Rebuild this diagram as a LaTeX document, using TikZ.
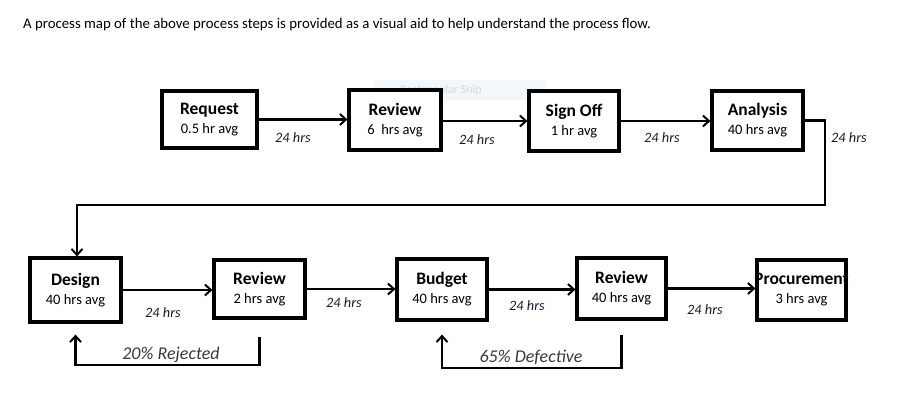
\documentclass[tikz,border=0pt]{standalone}
\usepackage{fontspec}
\setmainfont{Carlito}
\usetikzlibrary{arrows.meta}
\definecolor{lblcol}{HTML}{1A1A2E}
\definecolor{fbcol}{HTML}{3A3A3A}
\definecolor{snipfill}{HTML}{F2F7FC}
\definecolor{sniptext}{HTML}{D5DAE0}
\tikzset{
  proc/.style={draw=black, line width=3.2pt, fill=white, align=center, inner sep=0pt, font=\fontsize{14.5pt}{19pt}\selectfont},
  arr/.style={draw=black, line width=2.2pt, -{Straight Barb[length=6pt,width=11pt,line width=2pt]}},
  hrs/.style={font=\fontsize{14.3pt}{16pt}\selectfont\itshape, text=lblcol, inner sep=0pt},
  fb/.style={font=\fontsize{18pt}{20pt}\selectfont\itshape, text=fbcol, inner sep=0pt},
}
\newcommand{\ttl}[1]{{\fontsize{17.5pt}{19pt}\selectfont\bfseries #1}}
\begin{document}
\begin{tikzpicture}[x=1pt,y=-1pt]
\useasboundingbox (0,0) rectangle (900,410);
% title
\node[anchor=west, inner sep=0pt, font=\fontsize{14.8pt}{16pt}\selectfont] (title) at (23,25) {A process map of the above process steps is provided as a visual aid to help understand the process flow.};
% faint snip artefact
\node[fill=snipfill, minimum width=172pt, minimum height=20pt, inner sep=0pt] (snip) at (460,90) {};
\node[text=sniptext, font=\fontsize{12pt}{13pt}\selectfont, anchor=west, inner sep=0pt] (sniplbl) at (400,90) {Rectangular Snip};
% top row
\node[proc, minimum width=95pt, minimum height=57pt] (req) at (209.5,119.5) {\ttl{Request}\\0.5 hr avg};
\node[proc, minimum width=92pt, minimum height=60pt] (rev1) at (395,120) {\ttl{Review}\\6\ \ hrs avg};
\node[proc, minimum width=90pt, minimum height=60pt] (sign) at (574,121) {\ttl{Sign Off}\\1 hr avg};
\node[proc, minimum width=91pt, minimum height=59pt] (ana) at (757.5,120.5) {\ttl{Analysis}\\40 hrs avg};
% bottom row
\node[proc, minimum width=91pt, minimum height=64pt] (des) at (75.5,290) {\ttl{Design}\\40 hrs avg};
\node[proc, minimum width=91pt, minimum height=58pt] (rev2) at (259.5,289) {\ttl{Review}\\2 hrs avg};
\node[proc, minimum width=90pt, minimum height=61pt] (bud) at (442,289.5) {\ttl{Budget}\\40 hrs avg};
\node[proc, minimum width=89pt, minimum height=61pt] (rev3) at (621.5,288.5) {\ttl{Review}\\40 hrs avg};
\node[proc, minimum width=89pt, minimum height=60pt] (proc) at (801.5,290) {\makebox[0pt]{\ttl{Procurement}}\\3 hrs avg};
% top connectors
\draw[arr] (req.east) -- (req.east -| rev1.west);
\draw[arr] (rev1.east |- sign.west) -- (sign.west);
\draw[arr] (sign.east) -- (sign.east -| ana.west);
\coordinate (c1) at (825,205);
\coordinate (c2) at (77,205);
\draw[arr] (ana.east) -- (ana.east -| c1) -- (c1) -- (c2) -- (c2 |- des.north);
% bottom connectors
\draw[arr] (des.east) -- (des.east -| rev2.west);
\draw[arr] (rev2.east) -- (rev2.east -| bud.west);
\draw[arr] (bud.east) -- (bud.east -| rev3.west);
\draw[arr] (rev3.east) -- (rev3.east -| proc.west);
% feedback loops
\draw[arr, shorten <=17pt, shorten >=11pt] (rev2.south) -- ++(0,45) -| (des.south);
\draw[arr, shorten <=14pt, shorten >=13pt] (rev3.south) -- ++(0,47) -| (bud.south);
% labels
\node[hrs] (l1) at (293,138) {24 hrs};
\node[hrs] (l2) at (477,140) {24 hrs};
\node[hrs] (l3) at (662,138) {24 hrs};
\node[hrs] (l4) at (849,138) {24 hrs};
\node[hrs] (l5) at (163,313) {24 hrs};
\node[hrs] (l6) at (344,303) {24 hrs};
\node[hrs] (l7) at (527,306) {24 hrs};
\node[hrs] (l8) at (705,310) {24 hrs};
\node[fb] (f1) at (171,355) {20\% Rejected};
\node[fb] (f2) at (531,357) {65\% Defective};
\end{tikzpicture}
\end{document}
